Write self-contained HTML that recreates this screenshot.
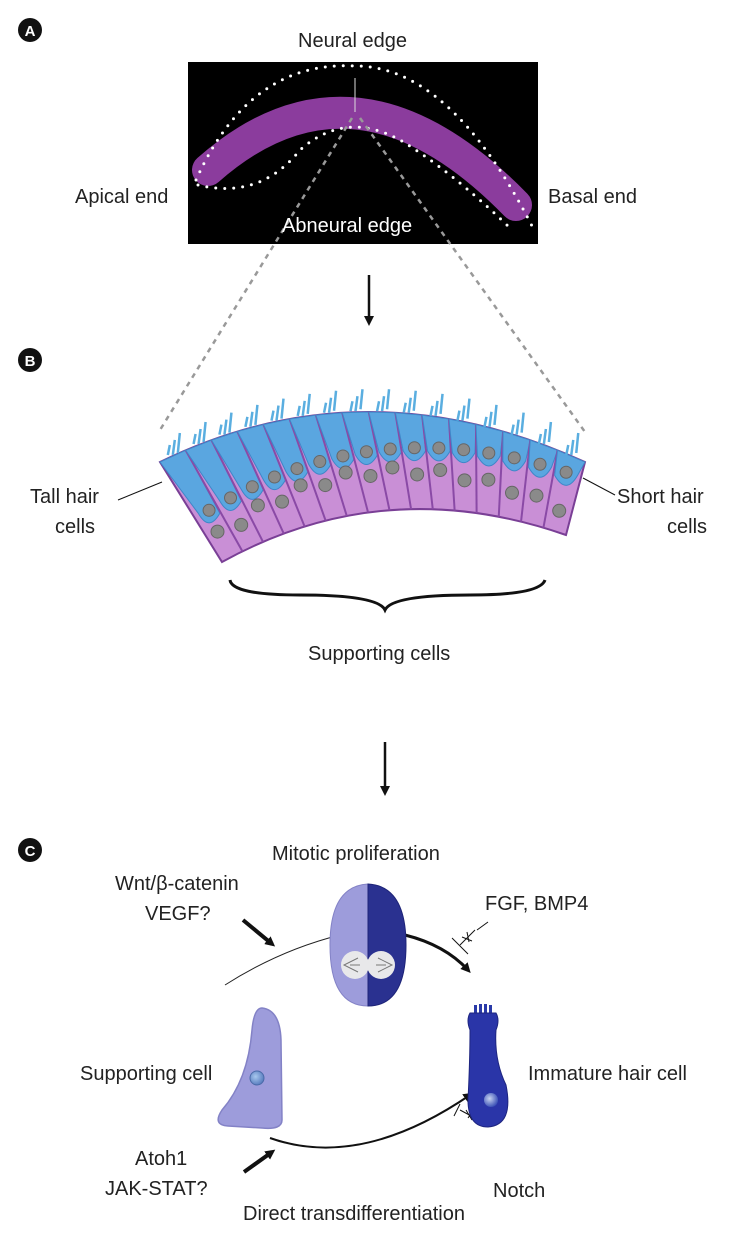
<!DOCTYPE html>
<html><head><meta charset="utf-8"><style>
html,body{margin:0;padding:0;background:#fff;}
body{width:750px;height:1235px;position:relative;overflow:hidden;font-family:"Liberation Sans",sans-serif;color:#222;}
.t{position:absolute;font-size:20px;white-space:nowrap;}
</style></head><body>
<svg id="s" width="750" height="1235" style="position:absolute;left:0;top:0">
<defs>
<marker id="ah" markerWidth="10" markerHeight="10" refX="6" refY="5" orient="auto" markerUnits="userSpaceOnUse"><path d="M0,0 L10,5 L0,10 z" fill="#111"/></marker>
<radialGradient id="nuc" cx="0.4" cy="0.4" r="0.6"><stop offset="0" stop-color="#a8c8ee"/><stop offset="1" stop-color="#5a7ec0"/></radialGradient>
<radialGradient id="nuc2" cx="0.4" cy="0.4" r="0.6"><stop offset="0" stop-color="#c8d4f0"/><stop offset="1" stop-color="#3f55b8"/></radialGradient>
</defs>
<circle cx="30" cy="30" r="12" fill="#111"/><text x="30" y="36" fill="#fff" font-size="15" font-weight="bold" text-anchor="middle" font-family="Liberation Sans">A</text>
<circle cx="30" cy="360" r="12" fill="#111"/><text x="30" y="366" fill="#fff" font-size="15" font-weight="bold" text-anchor="middle" font-family="Liberation Sans">B</text>
<circle cx="30" cy="850" r="12" fill="#111"/><text x="30" y="856" fill="#fff" font-size="15" font-weight="bold" text-anchor="middle" font-family="Liberation Sans">C</text>
<rect x="188" y="62" width="350" height="182" fill="#000"/>
<path d="M208,170 Q355,40 516,205" stroke="#8b3c9d" stroke-width="32" fill="none" stroke-linecap="round"/>
<path d="M355,78 L355,112" stroke="#ddd" stroke-width="1"/>
<path d="M196,180 Q250,60 355,66 Q450,66 532,226" stroke="#fff" stroke-width="3" fill="none" stroke-dasharray="0 9" stroke-linecap="round"/>
<path d="M198,185 Q260,200 300,150 Q345,110 400,140 Q450,170 510,228" stroke="#fff" stroke-width="3" fill="none" stroke-dasharray="0 9" stroke-linecap="round"/>
<line x1="352" y1="118" x2="160" y2="430" stroke="#999" stroke-width="2.5" stroke-dasharray="5 5"/>
<line x1="360" y1="118" x2="585" y2="432" stroke="#999" stroke-width="2.5" stroke-dasharray="5 5"/>
<line x1="369" y1="275" x2="369" y2="322" stroke="#111" stroke-width="2.5" marker-end="url(#ah)"/>
<line x1="385" y1="742" x2="385" y2="792" stroke="#111" stroke-width="2.5" marker-end="url(#ah)"/>
<g id="band"></g>
<line x1="118" y1="500" x2="162" y2="482" stroke="#111" stroke-width="1"/>
<line x1="583" y1="478" x2="615" y2="495" stroke="#111" stroke-width="1"/>
<path d="M230,580 Q232,595 300,595 Q378,595 385,610 Q392,595 470,595 Q540,595 545,580" stroke="#111" stroke-width="3" fill="none"/>
<path d="M225,985 Q280,950 340,935" stroke="#222" stroke-width="1" fill="none"/>
<path d="M405,935 Q445,945 468,970" stroke="#111" stroke-width="3" fill="none" marker-end="url(#ah)"/>
<path d="M270,1138 Q360,1170 470,1095" stroke="#111" stroke-width="2" fill="none" marker-end="url(#ah)"/>
<line x1="243" y1="920" x2="272" y2="944" stroke="#111" stroke-width="4" marker-end="url(#ah)"/>
<line x1="244" y1="1172" x2="272" y2="1152" stroke="#111" stroke-width="4" marker-end="url(#ah)"/>
<line x1="475" y1="930" x2="460" y2="945" stroke="#111" stroke-width="1"/><line x1="452" y1="938" x2="468" y2="954" stroke="#111" stroke-width="1"/><line x1="477" y1="930" x2="488" y2="922" stroke="#111" stroke-width="1"/><path d="M462,937 l10,4 M467,932 l2,10" stroke="#111" stroke-width="1"/>
<line x1="460" y1="1110" x2="490" y2="1126" stroke="#111" stroke-width="1"/><line x1="454" y1="1116" x2="460" y2="1104" stroke="#111" stroke-width="1"/><path d="M466,1110 l6,10 M472,1112 l-4,6" stroke="#111" stroke-width="1"/>
<path d="M368,884 Q330,886 330,945 Q330,1006 368,1006 z" fill="#9d9cdb" stroke="#8382c6"/>
<path d="M368,884 Q406,886 406,945 Q406,1006 368,1006 z" fill="#2a3190" stroke="#1e2478"/>
<ellipse cx="355" cy="965" rx="14" ry="14" fill="#e8e8ea"/><ellipse cx="381" cy="965" rx="14" ry="14" fill="#e8e8ea"/>
<path d="M358,958 l-14,7 l14,7 M378,958 l14,7 l-14,7 M350,965 h10 M376,965 h10" stroke="#777" stroke-width="1" fill="none"/>
<path d="M262,1008 Q280,1010 281,1040 L282,1120 Q282,1130 262,1128 L228,1126 Q212,1125 222,1110 Q248,1080 252,1030 Q254,1008 262,1008 z" fill="#9d9cdb" stroke="#8382c6" stroke-width="1.5"/>
<circle cx="257" cy="1078" r="7" fill="url(#nuc)" stroke="#4a6aa8"/>
<rect x="474" y="1005" width="3" height="8" fill="#2a3aa8"/><rect x="479" y="1004" width="3" height="9" fill="#2a3aa8"/><rect x="484" y="1004" width="3" height="9" fill="#2a3aa8"/><rect x="489" y="1005" width="3" height="8" fill="#2a3aa8"/>
<path d="M470,1013 L496,1013 Q500,1020 496,1030 Q494,1060 506,1085 Q514,1125 488,1127 Q468,1127 468,1100 Q470,1060 470,1030 Q466,1020 470,1013 z" fill="#2a35a8" stroke="#1e2580"/>
<circle cx="491" cy="1100" r="7" fill="url(#nuc2)"/>
</svg>
<div class="t" style="left:298px;top:30px">Neural edge</div>
<div class="t" style="left:75px;top:186px">Apical end</div>
<div class="t" style="left:548px;top:186px">Basal end</div>
<div class="t" style="left:282px;top:215px;color:#fff">Abneural edge</div>
<div class="t" style="left:30px;top:486px">Tall hair</div>
<div class="t" style="left:55px;top:516px">cells</div>
<div class="t" style="left:617px;top:486px">Short hair</div>
<div class="t" style="left:667px;top:516px">cells</div>
<div class="t" style="left:308px;top:643px">Supporting cells</div>
<div class="t" style="left:272px;top:843px">Mitotic proliferation</div>
<div class="t" style="left:115px;top:873px">Wnt/β-catenin</div>
<div class="t" style="left:145px;top:903px">VEGF?</div>
<div class="t" style="left:485px;top:893px">FGF, BMP4</div>
<div class="t" style="left:80px;top:1063px">Supporting cell</div>
<div class="t" style="left:528px;top:1063px">Immature hair cell</div>
<div class="t" style="left:135px;top:1148px">Atoh1</div>
<div class="t" style="left:105px;top:1178px">JAK-STAT?</div>
<div class="t" style="left:493px;top:1180px">Notch</div>
<div class="t" style="left:243px;top:1203px">Direct transdifferentiation</div>
<script>
(function(){
var NS="http://www.w3.org/2000/svg",g=document.getElementById("band");
function q(p0,p1,p2,t){var a=(1-t)*(1-t),b=2*(1-t)*t,c=t*t;return[a*p0[0]+b*p1[0]+c*p2[0],a*p0[1]+b*p1[1]+c*p2[1]];}
var T=[[160,462],[365,362],[585,462]],B=[[222,562],[385,472],[566,535]];
function el(n,a){var e=document.createElementNS(NS,n);for(var k in a)e.setAttribute(k,a[k]);g.appendChild(e);return e;}
var N=16,d="M"+T[0]+" Q"+T[1]+" "+T[2]+" L"+B[2]+" Q"+B[1]+" "+B[0]+" Z";
el("path",{d:d,fill:"#c98fd6",stroke:"#7a3f96","stroke-width":2});
for(var i=0;i<N;i++){
 var t0=i/N,t1=(i+1)/N,tm=(i+0.5)/N;
 var a0=q(T[0],T[1],T[2],t0),a1=q(T[0],T[1],T[2],t1),am=q(T[0],T[1],T[2],tm);
 var b0=q(B[0],B[1],B[2],t0),bm=q(B[0],B[1],B[2],tm),b1=q(B[0],B[1],B[2],t1);
 if(i>0) el("line",{x1:a0[0],y1:a0[1],x2:b0[0],y2:b0[1],stroke:"#8a4aa6","stroke-width":2});
 var f=0.62-0.32*tm;
 var hx=am[0]+(bm[0]-am[0])*f,hy=am[1]+(bm[1]-am[1])*f;
 var w=(a1[0]-a0[0])*0.42;
 el("path",{d:"M"+a0[0]+","+a0[1]+" L"+a1[0]+","+a1[1]+" L"+(hx+w)+","+(hy-4)+" Q"+hx+","+(hy+w*1.4)+" "+(hx-w)+","+(hy-4)+" Z",fill:"#5aa6e0",stroke:"#3f86c8","stroke-width":1});
 el("circle",{cx:hx,cy:hy-7,r:6,fill:"#8a8a8a",stroke:"#666"});
 for(var k=0;k<3;k++){var sx=am[0]-5+k*5,sy=am[1]-(k==2?3:1);el("line",{x1:sx,y1:sy,x2:sx+2,y2:sy-10-k*5,stroke:"#5aaee0","stroke-width":2.5});}
 var g2=0.8-0.15*Math.sin(tm*Math.PI)-0.1*tm+(i%2?0.04:-0.03);
 var sx2=am[0]+(bm[0]-am[0])*g2,sy2=am[1]+(bm[1]-am[1])*g2;
 el("circle",{cx:sx2,cy:sy2,r:6.5,fill:"#8a8a8a",stroke:"#666"});
}
})();
</script>
</body></html>
